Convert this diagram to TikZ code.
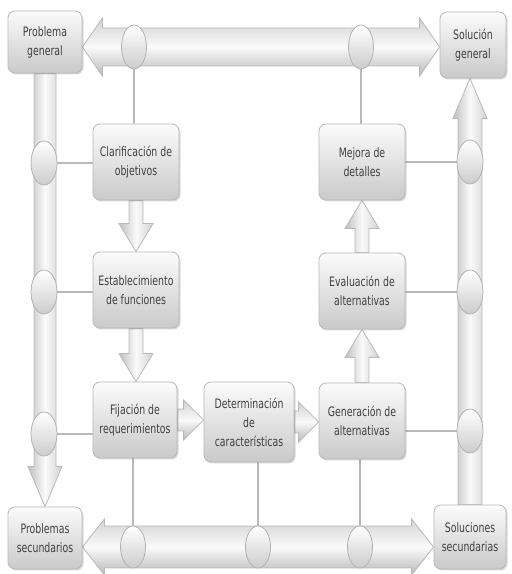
\documentclass[tikz,border=0pt]{standalone}
\usepackage{fontspec}
\newfontfamily\boxfont{DejaVu Sans}[FakeStretch=0.72]
\usetikzlibrary{calc,shadows,backgrounds,shapes.geometric}

\tikzset{
  x=1pt, y=1pt,
  stage/.style={rectangle, rounded corners=7pt, draw=gray!55, line width=0.8pt,
    top color=gray!3, bottom color=gray!42,
    drop shadow={opacity=0.3, shadow xshift=1.5pt, shadow yshift=-1.5pt},
    minimum width=86pt, minimum height=76pt, align=center, inner sep=2pt,
    font=\boxfont\fontsize{13}{19}\selectfont, text=black!75},
  corner/.style={stage, minimum width=74pt, minimum height=62pt},
  joint/.style={ellipse, draw=gray!60, line width=0.8pt, top color=white,
    bottom color=gray!40, minimum width=25pt, minimum height=44pt, inner sep=0pt},
  htube/.style={draw=gray!55, line width=0.8pt, top color=gray!35,
    bottom color=gray!55, middle color=gray!4},
  vtube/.style={draw=gray!55, line width=0.8pt, left color=gray!50,
    right color=gray!35, middle color=gray!4},
  link/.style={draw=gray!55, line width=1.4pt},
}

% vertical block arrow: style, from, to, shaft half width, head half width, head length
\newcommand\varrow[6]{%
  \path[#1] let \p1=#2, \p2=#3, \n1={sign(\y2-\y1)} in
    ({\x1-#4},\y1) -- ({\x1-#4},{\y2-(\n1)*#6}) -- ({\x1-#5},{\y2-(\n1)*#6}) -- (\x1,\y2)
    -- ({\x1+#5},{\y2-(\n1)*#6}) -- ({\x1+#4},{\y2-(\n1)*#6}) -- ({\x1+#4},\y1) -- cycle;}
% horizontal block arrow pointing right
\newcommand\harrow[6]{%
  \path[#1] let \p1=#2, \p2=#3 in
    (\x1,{\y1+#4}) -- ({\x2-#6},{\y1+#4}) -- ({\x2-#6},{\y1+#5}) -- (\x2,\y1)
    -- ({\x2-#6},{\y1-#5}) -- ({\x2-#6},{\y1-#4}) -- (\x1,{\y1-#4}) -- cycle;}
% horizontal block arrow with heads at both ends
\newcommand\hdarrow[6]{%
  \path[#1] let \p1=#2, \p2=#3 in
    (\x1,\y1) -- ({\x1+#6},{\y1+#5}) -- ({\x1+#6},{\y1+#4}) -- ({\x2-#6},{\y1+#4})
    -- ({\x2-#6},{\y1+#5}) -- (\x2,\y1) -- ({\x2-#6},{\y1-#5}) -- ({\x2-#6},{\y1-#4})
    -- ({\x1+#6},{\y1-#4}) -- ({\x1+#6},{\y1-#5}) -- cycle;}

\begin{document}
\begin{tikzpicture}
\useasboundingbox (0,0) rectangle (512,574);

% corner boxes
\node[corner] (pg) at (45,532) {Problema\\general};
\node[corner, minimum width=66pt, minimum height=66pt] (sg) at (473,529) {Solución\\general};
\node[corner] (ps) at (45,36) {Problemas\\secundarios};
\node[corner, minimum width=72pt, minimum height=64pt] (ss) at (470,37) {Soluciones\\secundarias};

% process steps
\node[stage] (cl) at (136,412) {Clarificación de\\objetivos};
\node[stage] (es) at (136,284) {Establecimiento\\de funciones};
\node[stage, minimum width=84pt] (fi) at (135,154) {Fijación de\\requerimientos};
\node[stage, minimum width=90pt, minimum height=80pt] (de) at (249,152) {Determinación\\de\\características};
\node[stage] (ge) at (362,153) {Generación de\\alternativas};
\node[stage] (ev) at (362,283) {Evaluación de\\alternativas};
\node[stage] (me) at (362,412) {Mejora de\\detalles};

% joints on the main tubes
\node[joint] (et1) at (134,527) {};
\node[joint] (et2) at (361,527) {};
\node[joint, minimum height=42pt] (eb1) at (133,27) {};
\node[joint, minimum height=42pt] (eb2) at (258,27) {};
\node[joint, minimum height=42pt] (eb3) at (360,27) {};
\node[joint, minimum width=26pt] (el1) at (44,411) {};
\node[joint, minimum width=26pt] (el2) at (44,282) {};
\node[joint, minimum width=26pt] (el3) at (44,140) {};
\node[joint, minimum width=26pt] (er1) at (470,412) {};
\node[joint, minimum width=26pt] (er2) at (470,282) {};
\node[joint, minimum width=26pt] (er3) at (470,143) {};

\begin{pgfonlayer}{background}
  \fill[white] (0,0) rectangle (512,574);
  % main tubes
  \hdarrow{htube}{($(pg.east)+(0,-5)$)}{(sg.west)}{19pt}{29pt}{20pt}
  \hdarrow{htube}{($(ps.east)+(0,-9)$)}{(ss.west)}{21pt}{28pt}{22pt}
  \varrow{vtube}{(pg.south)}{(ps.north)}{11pt}{17pt}{40pt}
  \varrow{vtube}{(ss.north)}{(sg.south)}{12pt}{17pt}{40pt}
  % links from joints to steps
  \draw[link] (et1.south) -- (et1.south |- cl.north);
  \draw[link] (et2.south) -- (et2.south |- me.north);
  \draw[link] (el1.east) -- (el1.east -| cl.west);
  \draw[link] (el2.east) -- (el2.east -| es.west);
  \draw[link] (el3.east) -- (el3.east -| fi.west);
  \draw[link] (er1.west) -- (er1.west -| me.east);
  \draw[link] (er2.west) -- (er2.west -| ev.east);
  \draw[link] (er3.west) -- (er3.west -| ge.east);
  \draw[link] (eb1.north) -- (eb1.north |- fi.south);
  \draw[link] (eb2.north) -- (eb2.north |- de.south);
  \draw[link] (eb3.north) -- (eb3.north |- ge.south);
  % flow between steps
  \varrow{vtube}{(cl.south)}{(es.north)}{7pt}{17pt}{28pt}
  \varrow{vtube}{(es.south)}{(fi.north)}{7pt}{17pt}{28pt}
  \harrow{htube}{(fi.east)}{(de.west)}{11pt}{20pt}{20pt}
  \harrow{htube}{(de.east)}{(ge.west)}{11pt}{20pt}{20pt}
  \varrow{vtube}{(ge.north)}{(ev.south)}{7pt}{17pt}{28pt}
  \varrow{vtube}{(ev.north)}{(me.south)}{7pt}{17pt}{28pt}
\end{pgfonlayer}
\end{tikzpicture}
\end{document}
